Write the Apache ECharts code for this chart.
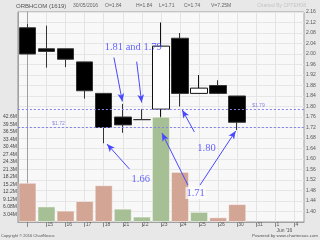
<!DOCTYPE html>
<html><head><meta charset="utf-8">
<script src="https://cdn.jsdelivr.net/npm/echarts@6/dist/echarts.min.js"></script>
<style>html,body{margin:0;padding:0;background:#e8e8e8}#c{width:320px;height:240px}</style>
</head><body><div id="c"></div>
<script>
// ---- data ----
const categories = ['14','15','16','17','18','21','22','23','24','25','26','30','31','1','4'];
const axisLabels = ['', '15','16','17','18','21','22','23','24','25','26','30','31','1\nJun \'16','4'];
const opens   = [2.10, 2.02, 2.02, 1.97, 1.85, 1.76, 1.75, 1.79, 2.06, 1.85, 1.88, 1.84];
const closes  = [2.00, 2.01, 1.98, 1.86, 1.72, 1.73, 1.75, 2.03, 1.85, 1.87, 1.85, 1.74];
const lows    = [2.00, 1.948, 1.95, 1.83, 1.66, 1.70, 1.75, 1.71, 1.80, 1.85, 1.85, 1.71];
const highs   = [2.114, 2.108, 2.02, 1.97, 1.85, 1.81, 1.79, 2.12, 2.08, 1.92, 1.90, 1.84];
const volumes = [15.9, 6.3, 4.6, 8.5, 14.9, 5.4, 2.2, 42.7, 20.3, 4.1, 1.9, 7.25]; // millions
const volTickLabels = ['3.04M','6.08M','9.12M','12.2M','15.2M','18.2M','21.3M','24.3M','27.4M','30.4M','33.4M','36.5M','39.5M','42.6M'];
const refLevels = [1.79, 1.72];
const refLabels = ['$1.79', '$1.72'];
const noteTexts = ['1.81 and 1.79', '1.66', '1.80', '1.71'];

// ---- annotation placement (data coordinates: [x index, price]) ----
const notePos = [[5.55, 2.024], [5.94, 1.524], [9.39, 1.640], [8.82, 1.4705]];
const refLabelPos = [[12.11, 1.803], [1.63, 1.7333]];
const arrows = [
  [[4.535, 1.9867], [4.976, 1.819]],
  [[5.728, 1.9707], [5.988, 1.815]],
  [[5.349, 1.5619], [4.171, 1.657]],
  [[8.754, 1.703],  [8.116, 1.7867]],
  [[8.412, 1.501],  [7.052, 1.699]],
  [[9.05, 1.501],   [10.918, 1.7067]]
];

const UP = '#a7bf95', DOWN = '#d2a595';
const candleData = opens.map((o, i) => [o, closes[i], lows[i], highs[i]]);
const volData = volumes.map((v, i) => ({
  value: v,
  itemStyle: { color: (i > 0 && closes[i] >= closes[i - 1]) ? UP : DOWN }
}));
const last = opens.length - 1;
const SANS = 'Liberation Sans';
const SERIF = 'Liberation Serif';
const BLUE = '#4040ff';

const chart = echarts.init(document.getElementById('c'), null, { renderer: 'canvas' });
chart.setOption({
  animation: false,
  backgroundColor: '#e8e8e8',
  grid: { left: 15, right: 16, top: 12, bottom: 18, show: true, backgroundColor: '#f8f8f8', borderColor: '#a0a0a0', borderWidth: 1 },
  xAxis: [
    {
      type: 'category', data: categories, boundaryGap: true,
      axisLine: { lineStyle: { color: '#a0a0a0' } },
      axisTick: { show: true, alignWithLabel: true, interval: 0, length: 5, lineStyle: { color: '#8a8a8a' } },
      axisLabel: { interval: 0, formatter: (v, i) => axisLabels[i], align: 'left', padding: [0, 0, 0, 1], margin: 0, fontSize: 5, lineHeight: 6, color: '#555', fontFamily: SANS },
      splitLine: { show: true, alignWithLabel: true, interval: 0, lineStyle: { color: '#e3e3e3', width: 1 } }
    },
    { type: 'value', min: -0.5, max: 14.5, show: false }
  ],
  yAxis: [
    {
      type: 'value', position: 'right', min: 1.36, max: 2.16, interval: 0.04,
      axisLine: { show: true, lineStyle: { color: '#a0a0a0' } },
      axisTick: { show: false },
      axisLabel: { formatter: v => v < 1.38 ? '' : v.toFixed(2), fontSize: 5, color: '#555', margin: 2, fontFamily: SANS },
      splitLine: { show: true, lineStyle: { color: '#e6e6e6' } }
    },
    {
      type: 'value', position: 'left', min: 0, max: 3.04 * 28, interval: 3.04,
      axisLine: { show: true, lineStyle: { color: '#a0a0a0' } },
      axisTick: { show: false },
      axisLabel: {
        formatter: v => { const k = Math.round(v / 3.04); return (k >= 1 && k <= volTickLabels.length) ? volTickLabels[k - 1] : ''; },
        fontSize: 5, color: '#444', margin: 1, fontFamily: SANS
      },
      splitLine: { show: false }
    }
  ],
  series: [
    {
      type: 'candlestick', xAxisIndex: 0, yAxisIndex: 0, data: candleData, barWidth: 17, z: 3, clip: false,
      itemStyle: { color: '#ffffff', color0: '#000000', borderColor: '#111', borderColor0: '#333', borderColorDoji: '#333', borderWidth: 1 }
    },
    {
      type: 'bar', xAxisIndex: 0, yAxisIndex: 1, data: volData, barWidth: 18, z: 4,
      itemStyle: { borderColor: 'rgba(255,255,255,0.45)', borderWidth: 1 }
    },
    {
      type: 'scatter', xAxisIndex: 1, yAxisIndex: 0, data: [], z: 6, silent: true,
      markLine: {
        silent: true, symbol: 'none', animation: false,
        label: { show: false },
        lineStyle: { type: [2, 2], color: '#8484e4', width: 1 },
        data: refLevels.map(v => ({ yAxis: v }))
      }
    },
    {
      type: 'scatter', xAxisIndex: 1, yAxisIndex: 0, data: [], z: 7, silent: true,
      markLine: {
        silent: true, symbol: ['none', 'arrow'], symbolSize: [5, 8], animation: false,
        label: { show: false },
        lineStyle: { type: 'solid', color: '#4848ff', width: 1 },
        data: arrows.map(a => [{ coord: a[0] }, { coord: a[1] }])
      }
    },
    {
      type: 'scatter', xAxisIndex: 1, yAxisIndex: 0, z: 8, silent: true, symbolSize: 1,
      itemStyle: { color: 'rgba(0,0,0,0)' },
      label: { show: true, position: 'inside', formatter: '{b}', color: BLUE, fontFamily: SERIF, fontSize: 10.5 },
      data: noteTexts.map((t, i) => ({
        name: t, value: notePos[i],
        label: t === '1.71' ? { backgroundColor: 'rgba(255,255,255,0.9)', padding: [1, 1, 0, 1] } : {}
      })).concat(refLabels.map((t, i) => ({
        name: t, value: refLabelPos[i],
        label: { fontFamily: SANS, fontSize: 5, color: '#6a6ae0' }
      })))
    }
  ],
  graphic: [
    { type: 'text', left: 16, top: 3, style: { text: 'ORBHCOM (1619)', fontSize: 6, fill: '#555', fontFamily: SANS } },
    { type: 'text', left: 73, top: 3.5, style: { text: '30/' + '05/2016', fontSize: 5, fill: '#666', fontFamily: SANS } },
    { type: 'text', left: 105, top: 3.5, style: { text: 'O=' + opens[last].toFixed(2), fontSize: 5, fill: '#666', fontFamily: SANS } },
    { type: 'text', left: 136, top: 3.5, style: { text: 'H=' + highs[last].toFixed(2), fontSize: 5, fill: '#666', fontFamily: SANS } },
    { type: 'text', left: 159, top: 3.5, style: { text: 'L=' + lows[last].toFixed(2), fontSize: 5, fill: '#666', fontFamily: SANS } },
    { type: 'text', left: 184, top: 3.5, style: { text: 'C=' + closes[last].toFixed(2), fontSize: 5, fill: '#666', fontFamily: SANS } },
    { type: 'text', left: 211, top: 3.5, style: { text: 'V=' + volumes[last].toFixed(2) + 'M', fontSize: 5, fill: '#666', fontFamily: SANS } },
    { type: 'text', left: 257, top: 3.5, style: { text: 'Charted By CPTEH08', fontSize: 5, fill: '#c4c4c4', fontFamily: SANS } },
    { type: 'text', left: 1, top: 234, style: { text: 'Copyright \u00a9 2016 ChartNexus', fontSize: 4, fill: '#555', fontFamily: SANS } },
    { type: 'text', right: 2, top: 234, style: { text: 'Powered by www.chartnexus.com', fontSize: 4.4, fill: '#555', fontFamily: SANS } }
  ]
});
</script>
</body></html>
